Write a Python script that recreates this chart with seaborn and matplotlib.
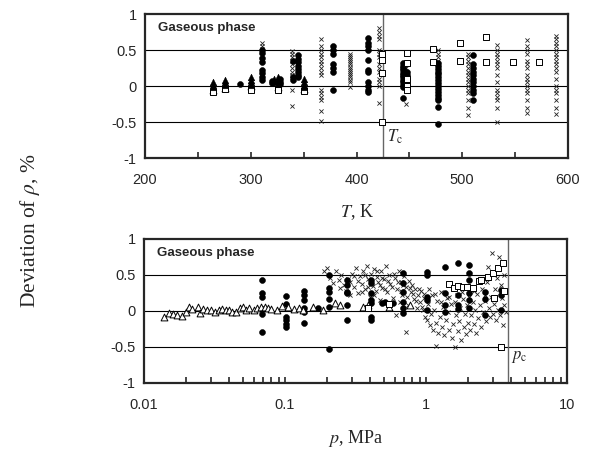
import numpy as np
import pandas as pd
import matplotlib
matplotlib.use("Agg")
import matplotlib.pyplot as plt
import matplotlib.ticker as mticker
import seaborn as sns

# ---- top panel data: temperature columns (K) and deviations (%) ----
t_circ_T = [290, 311, 320, 328, 340, 345, 378, 411, 444, 448, 477, 510]
t_circ_dev = [
    [0.03],
    [0.50, 0.46, 0.39, 0.33, 0.22, 0.18, 0.12, 0.08],
    [0.07, 0.04],
    [0.06, 0.10, 0.03],
    [0.35, 0.12, 0.08],
    [0.43, 0.38, 0.33, 0.28, 0.24, 0.20, 0.15, 0.12],
    [0.55, 0.50, 0.44, 0.30, 0.25, 0.20, -0.06],
    [0.66, 0.60, 0.55, 0.50, 0.36, 0.22, 0.19, 0.05, 0.0, -0.05, -0.08],
    [0.32, 0.28, 0.25, 0.22, 0.18, 0.15, 0.12, 0.08, 0.05, 0.02, -0.02, -0.17],
    [0.20, 0.15, 0.10, 0.05, 0.02],
    [0.32, 0.28, 0.24, 0.20, 0.16, 0.12, 0.08, 0.04, 0.0, -0.04, -0.08, -0.12,
     -0.16, -0.20, -0.29, -0.53],
    [0.43, 0.30, 0.25, 0.20, 0.15, 0.10, 0.05, 0.0, -0.05, -0.10, -0.20],
]
t_cross_T = [311, 339, 366, 394, 421, 447, 477, 505, 533, 561, 589]
t_cross_dev = [
    [0.60, 0.55, 0.52],
    [0.48, 0.45, 0.40, 0.35, 0.30, 0.25, 0.20, 0.15, 0.12, -0.05, -0.28],
    [0.65, 0.55, 0.50, 0.45, 0.40, 0.35, 0.30, 0.25, 0.20, 0.15, -0.05, -0.10,
     -0.15, -0.20, -0.35, -0.48],
    [0.45, 0.42, 0.39, 0.36, 0.33, 0.30, 0.27, 0.24, 0.21, 0.18, 0.15, 0.12,
     0.09, 0.06, -0.02],
    [0.80, 0.75, 0.70, 0.65, 0.50, 0.45, 0.40, 0.30, 0.25, 0.20, 0.10, 0.05,
     0.0, -0.24],
    [0.30, 0.25, 0.20, 0.15, 0.10, 0.05, 0.0, -0.25],
    [0.50, 0.45, 0.40, 0.35, 0.30, 0.25, 0.20, 0.15, 0.10],
    [0.45, 0.40, 0.35, 0.30, 0.25, 0.20, 0.15, 0.10, 0.05, 0.0, -0.05, -0.10,
     -0.20, -0.30, -0.40],
    [0.57, 0.50, 0.45, 0.40, 0.35, 0.30, 0.25, 0.15, 0.05, -0.05, -0.10, -0.15,
     -0.20, -0.30, -0.50],
    [0.64, 0.55, 0.50, 0.45, 0.35, 0.30, 0.25, 0.15, 0.10, 0.05, 0.0, -0.05,
     -0.10, -0.20, -0.30, -0.38],
    [0.70, 0.65, 0.60, 0.55, 0.50, 0.45, 0.40, 0.35, 0.30, 0.25, 0.20, 0.10,
     0.0, -0.05, -0.10, -0.20, -0.30, -0.39],
]
t_sq_T = [264, 276, 300, 326, 350, 424, 448, 472, 498, 522, 548, 573]
t_sq_dev = [
    [-0.08], [-0.04], [-0.05], [-0.05], [-0.07],
    [0.44, 0.36, 0.18, -0.50],
    [0.46, 0.32, 0.10, 0.0, -0.06],
    [0.51, 0.34], [0.60, 0.35], [0.68, 0.34], [0.33], [0.33],
]
t_otri_T = [264, 276, 300, 326, 350]
t_otri_dev = [[-0.05], [-0.03], [0.0], [-0.02], [-0.04]]
t_ftri_T = [264, 276, 300, 322, 326, 350]
t_ftri_dev = [
    [0.05, 0.02, -0.02], [0.08, 0.05, 0.02], [0.12, 0.08, 0.05, 0.02],
    [0.10, 0.05], [0.12, 0.07, 0.03], [0.10, 0.06, 0.02, -0.02],
]

# ---- bottom panel data: pressure columns (MPa) and deviations (%) ----
b_circ_p = [0.0687, 0.1016, 0.136, 0.172, 0.205, 0.275, 0.41, 0.49, 0.51,
            0.58, 0.687, 1.02, 1.36, 1.69, 2.02, 2.62, 3.40]
b_circ_dev = [
    [0.43, 0.25, 0.20, 0.03, -0.04, -0.29],
    [0.21, 0.10, -0.08, -0.13, -0.18, -0.22],
    [0.28, 0.22, 0.15, 0.04, -0.01, -0.17],
    [0.04],
    [0.50, 0.32, 0.27, 0.17, 0.06, -0.53],
    [0.43, 0.36, 0.27, 0.25, 0.08, -0.12],
    [0.43, 0.39, 0.25, 0.15, 0.11, -0.08, -0.13],
    [0.11], [0.13], [0.11],
    [0.53, 0.39, 0.27, 0.13, 0.04, -0.03],
    [0.54, 0.50, 0.19, 0.15, 0.02],
    [0.61, 0.25, 0.08, -0.01],
    [0.66, 0.22, 0.08, 0.03],
    [0.64, 0.53, 0.43, 0.25, 0.15, 0.04],
    [0.27, 0.17, -0.06],
    [0.29, 0.22, 0.02],
]
b_sq_p = [0.389, 0.55, 1.46, 1.58, 1.69, 1.83, 1.95, 2.15, 2.38, 2.45, 2.75,
          2.99, 3.03, 3.24, 3.40, 3.52, 3.57]
b_sq_dev = [0.04, 0.10, 0.38, 0.32, 0.35, 0.33, 0.33, 0.32, 0.42, 0.43, 0.47,
            0.53, 0.18, 0.60, -0.50, 0.67, 0.28]
b_tri_p = [0.0139, 0.0150, 0.0160, 0.0172, 0.0186, 0.020, 0.021, 0.022, 0.024,
           0.025, 0.026, 0.028, 0.030, 0.032, 0.034, 0.036, 0.038, 0.040,
           0.042, 0.045, 0.048, 0.050, 0.053, 0.056, 0.060, 0.063, 0.068,
           0.072, 0.076, 0.080, 0.088, 0.095, 0.105, 0.115, 0.125, 0.135,
           0.158, 0.186, 0.226, 0.245, 0.357, 0.389, 0.55, 0.77]
b_tri_dev = [-0.08, -0.03, -0.04, -0.05, -0.07, -0.01, 0.05, 0.03, 0.05,
             -0.03, 0.03, 0.02, 0.01, -0.02, 0.02, 0.03, 0.01, 0.02, -0.01,
             -0.02, 0.04, 0.05, 0.02, 0.04, 0.01, 0.04, 0.06, 0.05, 0.04,
             0.03, 0.02, 0.07, 0.06, 0.03, 0.04, 0.01, 0.06, 0.01, 0.11, 0.08,
             0.06, 0.08, 0.06, 0.08]
b_cross_p = [0.19, 0.20, 0.21, 0.22, 0.23, 0.24, 0.245, 0.25, 0.26, 0.27,
             0.28, 0.29, 0.29, 0.30, 0.31, 0.32, 0.33, 0.34, 0.35, 0.36, 0.37,
             0.38, 0.39, 0.40, 0.41, 0.42, 0.43, 0.44, 0.45, 0.46, 0.47, 0.48,
             0.49, 0.50, 0.52, 0.53, 0.55, 0.56, 0.58, 0.60, 0.61, 0.62, 0.64,
             0.65, 0.67, 0.68, 0.70, 0.72, 0.72, 0.74, 0.76, 0.78, 0.80, 0.82,
             0.84, 0.86, 0.88, 0.90, 0.92, 0.95, 0.97, 0.99, 1.02, 1.04, 1.06,
             1.08, 1.10, 1.12, 1.14, 1.17, 1.18, 1.20, 1.22, 1.25, 1.27, 1.30,
             1.32, 1.35, 1.38, 1.40, 1.43, 1.46, 1.50, 1.52, 1.55, 1.58, 1.61,
             1.63, 1.66, 1.70, 1.72, 1.75, 1.78, 1.82, 1.85, 1.88, 1.92, 1.95,
             1.98, 2.02, 2.05, 2.10, 2.14, 2.18, 2.22, 2.26, 2.30, 2.35, 2.40,
             2.45, 2.50, 2.55, 2.60, 2.65, 2.70, 2.75, 2.78, 2.85, 2.90, 2.95,
             3.00, 3.05, 3.10, 3.15, 3.20, 3.25, 3.30, 3.35, 3.40, 3.45, 3.50,
             3.55, 3.60, 3.65, 3.70,
             0.31, 0.33, 0.35, 0.37, 0.39, 0.41, 0.43, 0.45, 0.47, 0.49, 0.51,
             0.54, 0.57, 0.59, 0.63, 0.66, 0.69, 0.73, 0.77, 0.81, 0.85, 0.89,
             0.93, 0.96, 1.05, 1.15, 1.28, 1.45, 1.60, 1.80, 2.20, 2.60]
b_cross_dev = [0.56, 0.60, 0.46, 0.39, 0.55, 0.43, 0.32, 0.50, 0.36, 0.28,
               0.45, 0.22, 0.40, 0.52, 0.33, 0.60, 0.25, 0.48, 0.38, 0.56,
               0.30, 0.63, 0.44, 0.20, 0.52, 0.35, 0.58, 0.28, 0.47, 0.40,
               0.15, 0.55, 0.32, 0.44, 0.62, 0.26, 0.50, 0.38, 0.18, 0.46,
               -0.06, 0.30, 0.55, 0.12, 0.40, 0.22, 0.48, -0.29, 0.34, 0.08,
               0.42, 0.26, 0.36, 0.16, 0.30, 0.04, 0.22, 0.12, 0.28, 0.02,
               0.18, -0.08, -0.12, 0.10, -0.20, -0.04, 0.22, -0.26, 0.02,
               -0.49, -0.16, 0.14, -0.30, -0.08, 0.26, -0.22, 0.06, -0.34,
               -0.12, 0.18, -0.02, -0.26, 0.10, -0.37, -0.18, 0.30, -0.50,
               -0.06, 0.22, -0.28, -0.14, 0.04, -0.40, 0.16, -0.22, -0.04,
               -0.32, 0.08, -0.16, 0.20, -0.26, -0.06, 0.12, -0.18, 0.02,
               -0.30, 0.24, -0.10, 0.08, -0.22, 0.30, -0.02, 0.14, -0.14,
               0.40, 0.61, 0.04, -0.08, 0.20, 0.80, -0.04, 0.10, 0.30, -0.12,
               0.46, 0.02, 0.75, -0.06, 0.36, 0.18, -0.20, 0.50, 0.08, 0.26,
               -0.02,
               0.48, 0.42, 0.27, 0.50, 0.34, 0.40, 0.22, 0.56, 0.36, 0.46,
               0.30, 0.42, 0.34, 0.52, 0.40, 0.28, 0.36, 0.20, 0.32, 0.24,
               0.14, 0.30, 0.06, 0.24, 0.30, 0.24, 0.12, 0.20, 0.12, 0.26,
               0.28, 0.22]

T_c = 425.1
p_c = 3.796


def columns(xs, devs, xname):
    df = pd.DataFrame({xname: xs, "dev": devs}).explode("dev")
    df["dev"] = df["dev"].astype(float)
    return df


sns.set_style("ticks")
plt.rcParams['font.family'] = ['Liberation Sans', 'DejaVu Sans']
plt.rcParams['mathtext.fontset'] = 'stix'

fig = plt.figure(figsize=(5.95, 4.66), dpi=100)
ax1 = fig.add_axes([145 / 595, 1 - 158 / 466, 423 / 595, 144 / 466])
ax2 = fig.add_axes([144 / 595, 1 - 383 / 466, 423 / 595, 144 / 466])

cross_kw = dict(marker="x", color="#222222", s=9, linewidth=0.6)
circ_kw = dict(marker="o", color="black", s=18, edgecolor="black", linewidth=0.4)
sq_kw = dict(marker="s", s=22, facecolor="white", edgecolor="black", linewidth=0.7)
tri_kw = dict(marker="^", s=24, facecolor="white", edgecolor="black", linewidth=0.7)
ftri_kw = dict(marker="^", s=22, color="black", edgecolor="black", linewidth=0.4)

# reference lines
for ax in (ax1, ax2):
    for yv in (0.5, 0, -0.5):
        ax.axhline(yv, color="black", lw=0.8, zorder=1)

# top panel
sns.scatterplot(data=columns(t_cross_T, t_cross_dev, "T"), x="T", y="dev", ax=ax1, zorder=3, **cross_kw)
sns.scatterplot(data=columns(t_circ_T, t_circ_dev, "T"), x="T", y="dev", ax=ax1, zorder=3, **circ_kw)
sns.scatterplot(data=columns(t_otri_T, t_otri_dev, "T"), x="T", y="dev", ax=ax1, zorder=4, **tri_kw)
sns.scatterplot(data=columns(t_sq_T, t_sq_dev, "T"), x="T", y="dev", ax=ax1, zorder=4, **sq_kw)
sns.scatterplot(data=columns(t_ftri_T, t_ftri_dev, "T"), x="T", y="dev", ax=ax1, zorder=5, **ftri_kw)
ax1.axvline(T_c, color="#666666", lw=1.0, zorder=2)
ax1.text(T_c + 4, -0.70, r"$T_{\rm c}$", fontsize=12, va="center", ha="left")

ax1.set_xlim(200, 600)
ax1.xaxis.set_major_locator(mticker.MultipleLocator(100))
ax1.xaxis.set_minor_locator(mticker.MultipleLocator(50))
ax1.set_xlabel(r"$T$, K", fontsize=13, family="Liberation Serif", labelpad=11)

# bottom panel
sns.scatterplot(x=b_cross_p, y=b_cross_dev, ax=ax2, zorder=3, **cross_kw)
sns.scatterplot(data=columns(b_circ_p, b_circ_dev, "p"), x="p", y="dev", ax=ax2, zorder=3, **circ_kw)
sns.scatterplot(x=b_tri_p, y=b_tri_dev, ax=ax2, zorder=4, **tri_kw)
sns.scatterplot(x=b_sq_p, y=b_sq_dev, ax=ax2, zorder=4, **sq_kw)
ax2.axvline(p_c, color="#666666", lw=1.0, zorder=2)
ax2.text(p_c * 1.06, -0.64, r"$p_{\rm c}$", fontsize=12, va="center", ha="left")

ax2.set_xscale("log")
ax2.set_xlim(0.01, 10)
ax2.xaxis.set_major_formatter(mticker.FuncFormatter(lambda v, pos: f"{v:g}"))
ax2.xaxis.set_minor_formatter(mticker.NullFormatter())
ax2.set_xlabel(r"$p$, MPa", fontsize=13, family="Liberation Serif", labelpad=11)

for ax in (ax1, ax2):
    ax.set_ylim(-1, 1)
    ax.set_yticks([-1, -0.5, 0, 0.5, 1])
    ax.yaxis.set_major_formatter(mticker.FuncFormatter(lambda v, pos: f"{v:g}"))
    ax.set_ylabel("")
    ax.tick_params(axis="x", which="both", direction="in", length=4, width=1.2,
                   labelsize=10.5, pad=11)
    ax.tick_params(axis="y", length=0, labelsize=10.5, pad=6)
    for sp in ax.spines.values():
        sp.set_visible(True)
        sp.set_linewidth(1.6)
    ax.text(0.03, 0.9, "Gaseous phase", transform=ax.transAxes, fontsize=9.5,
            fontweight="bold", va="center", ha="left")

fig.text(0.05, 0.505, r"Deviation of $\rho$, %", rotation=90, fontsize=15.5,
         family="Liberation Serif", va="center", ha="center")

fig.savefig("out.png", dpi=100)
